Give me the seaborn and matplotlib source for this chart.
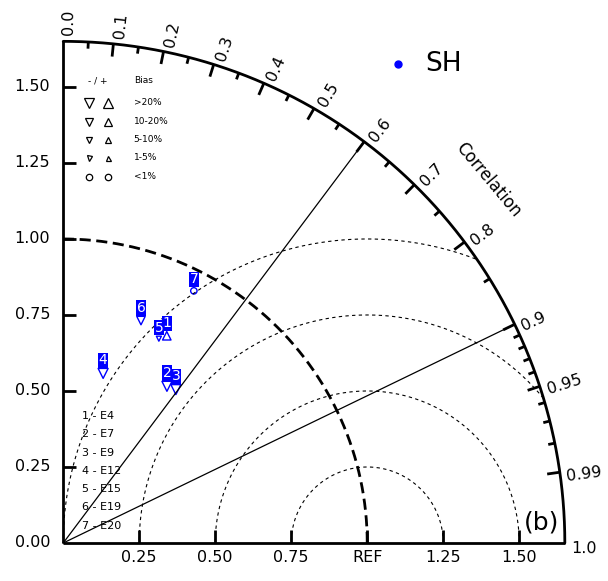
import numpy as np
import pandas as pd
import matplotlib
matplotlib.use('Agg')
import matplotlib.pyplot as plt
import seaborn as sns

# ---- data ----
case_names = ['E4', 'E7', 'E9', 'E12', 'E15', 'E19', 'E20']
std_ratio  = [0.762, 0.618, 0.626, 0.573, 0.742, 0.775, 0.934]
corr       = [0.447, 0.552, 0.592, 0.229, 0.424, 0.330, 0.460]
bias_pct   = [15, -25, -25, -25, -3, -15, 0.5]

std_ticks       = [0.25, 0.50, 0.75, 1.00, 1.25, 1.50]
std_ticklabels  = ['0.25', '0.50', '0.75', 'REF', '1.25', '1.50']
y_ticks         = [0.00, 0.25, 0.50, 0.75, 1.00, 1.25, 1.50]
y_ticklabels    = ['0.00', '0.25', '0.50', '0.75', '1.00', '1.25', '1.50']
corr_major      = [0.1, 0.2, 0.3, 0.4, 0.5, 0.6, 0.7, 0.8, 0.9, 0.95, 0.99]
corr_minor      = [0.05, 0.15, 0.25, 0.35, 0.45, 0.55, 0.65, 0.75, 0.85,
                   0.91, 0.92, 0.93, 0.94, 0.96, 0.97, 0.98]
corr_labels     = [0.0, 0.1, 0.2, 0.3, 0.4, 0.5, 0.6, 0.7, 0.8, 0.9, 0.95, 0.99, 1.0]
corr_lines      = [0.6, 0.9]
rms_levels      = [0.25, 0.50, 0.75, 1.00]
bias_classes    = ['>20%', '10-20%', '5-10%', '1-5%', '<1%']
bias_msize      = [7.2, 6.1, 4.9, 3.6, 4.6]

R = 1.65
BLUE = '#0000ff'

def bias_class(b):
    a = abs(b)
    if a >= 20: return '>20%'
    if a >= 10: return '10-20%'
    if a >= 5: return '5-10%'
    if a >= 1: return '1-5%'
    return '<1%'

def bias_symbol(b):
    if bias_class(b) == '<1%':
        return 'o'
    return '^' if b > 0 else 'v'

msize = dict(zip(bias_classes, bias_msize))

df = pd.DataFrame({'case': case_names, 'std': std_ratio, 'corr': corr, 'bias': bias_pct})
df['x'] = df['std'] * df['corr']
df['y'] = df['std'] * np.sqrt(1 - df['corr'] ** 2)
df['cls'] = df['bias'].apply(bias_class)
df['sym'] = df['bias'].apply(bias_symbol)

sns.set_style('white')
plt.rcParams['font.family'] = ['DejaVu Sans']
plt.rcParams['text.color'] = 'black'

fig = plt.figure(figsize=(6.08, 5.81), dpi=100)
ax = fig.add_axes([0, 0, 1, 1])
ax.set_xlim(-0.208, 1.792)
ax.set_ylim(-0.125, 1.786)
ax.axis('off')

# frame: axes and outer arc
ax.plot([0, 0], [0, R], color='k', lw=2.0, solid_capstyle='butt')
ax.plot([0, R], [0, 0], color='k', lw=2.0, solid_capstyle='butt')
t = np.linspace(0, np.pi / 2, 300)
ax.plot(R * np.cos(t), R * np.sin(t), color='k', lw=2.0)

# reference std arc
ax.plot(np.cos(t), np.sin(t), color='k', lw=2.0, dashes=(4, 2))

# centred RMS arcs around REF
tt = np.linspace(0, np.pi, 600)
for r in rms_levels:
    px = 1 + r * np.cos(tt)
    py = r * np.sin(tt)
    keep = np.hypot(px, py) <= R
    px = np.where(keep, px, np.nan)
    py = np.where(keep, py, np.nan)
    ax.plot(px, py, color='k', lw=0.8, dashes=(3, 3))

# correlation rays
for c in corr_lines:
    th = np.arccos(c)
    ax.plot([0, R * np.cos(th)], [0, R * np.sin(th)], color='k', lw=0.9)

# tick marks
for v in std_ticks:
    ax.plot([v, v], [0, 0.042], color='k', lw=2.0, solid_capstyle='butt')
for v in y_ticks[1:]:
    ax.plot([0, 0.042], [v, v], color='k', lw=2.0, solid_capstyle='butt')
for c in corr_major:
    th = np.arccos(c)
    ax.plot([R * np.cos(th), (R - 0.042) * np.cos(th)],
            [R * np.sin(th), (R - 0.042) * np.sin(th)], color='k', lw=2.0, solid_capstyle='butt')
for c in corr_minor:
    th = np.arccos(c)
    ax.plot([R * np.cos(th), (R - 0.022) * np.cos(th)],
            [R * np.sin(th), (R - 0.022) * np.sin(th)], color='k', lw=2.0, solid_capstyle='butt')

# tick labels
for v, lab in zip(std_ticks, std_ticklabels):
    ax.text(v, -0.047, lab, ha='center', va='center', fontsize=11.5)
for v, lab in zip(y_ticks, y_ticklabels):
    ax.text(-0.043, v, lab, ha='right', va='center', fontsize=11.5)
for c in corr_labels:
    th = np.arccos(c) - np.radians(0.6)
    ax.text(1.67 * np.cos(th), 1.67 * np.sin(th), f'{c:g}' if c not in (0.0, 1.0) else f'{c:.1f}',
            ha='left', va='center', rotation=np.degrees(th), rotation_mode='anchor', fontsize=11.5)
ax.text(1.397, 1.194, 'Correlation', ha='center', va='center', rotation=-50, fontsize=12)

# model points
sns.scatterplot(data=df, x='x', y='y', style='sym', markers={'v': 'v', '^': '^', 'o': 'o'},
                size='cls', sizes={k: msize[k] ** 2 for k in bias_classes},
                legend=False, ax=ax)
pts = ax.collections[-1]
pts.set_facecolor('none')
pts.set_edgecolor(BLUE)
pts.set_linewidth(1.0)

for i, row in df.iterrows():
    off = msize[row['cls']] / 2 + 6.0
    ax.annotate(str(i + 1), (row['x'], row['y']), xytext=(0, off), textcoords='offset points',
                ha='center', va='center', color='white', fontsize=10,
                bbox=dict(boxstyle='square,pad=0.04', fc=BLUE, ec='none'))

# bias legend (top left)
leg_rows = [1.448, 1.385, 1.326, 1.267, 1.204]
ax.text(0.115, 1.520, '- / +', ha='center', va='center', fontsize=6.5)
ax.text(0.232, 1.520, 'Bias', ha='left', va='center', fontsize=6.5)
for cls, yy in zip(bias_classes, leg_rows):
    if cls == '<1%':
        ax.plot(0.084, yy, marker='o', ms=msize[cls], mfc='none', mec='k', mew=0.9)
        ax.plot(0.147, yy, marker='o', ms=msize[cls], mfc='none', mec='k', mew=0.9)
    else:
        ax.plot(0.084, yy, marker='v', ms=msize[cls], mfc='none', mec='k', mew=0.9)
        ax.plot(0.147, yy, marker='^', ms=msize[cls], mfc='none', mec='k', mew=0.9)
    ax.text(0.232, yy, cls, ha='left', va='center', fontsize=6.5)

# case list (bottom left)
for i, name in enumerate(case_names):
    ax.text(0.061, 0.418 - i * 0.0602, f'{i + 1} - {name}', ha='left', va='center', fontsize=8)

# dataset label and panel tag
ax.plot(1.102, 1.576, marker='o', ms=5, color=BLUE, ls='none')
ax.text(1.19, 1.576, 'SH', ha='left', va='center', fontsize=19)
ax.text(1.575, 0.069, '(b)', ha='center', va='center', fontsize=18)

plt.savefig('out.png', dpi=100)
plt.close()
